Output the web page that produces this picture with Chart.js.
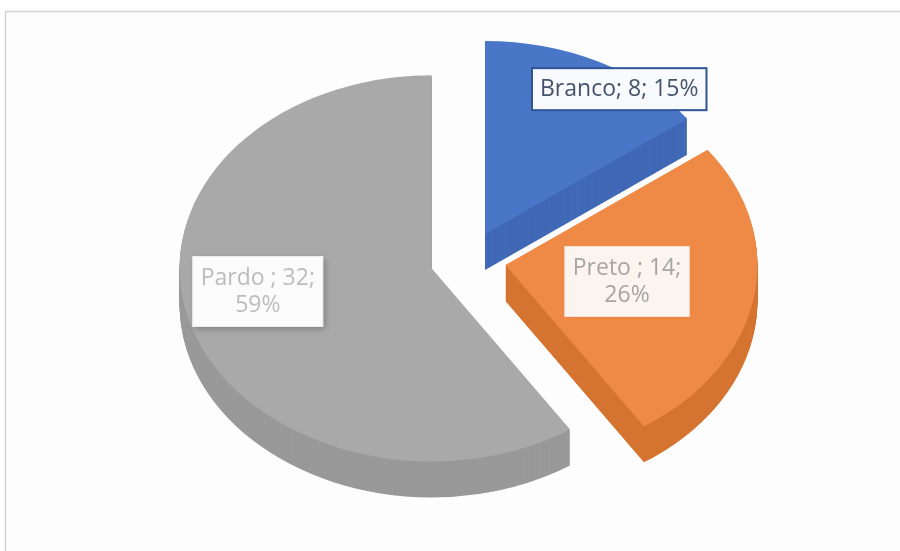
<!DOCTYPE html>
<html>
<head>
<meta charset="utf-8">
<script src="https://cdn.jsdelivr.net/npm/chart.js@4"></script>
<style>
  html, body { margin: 0; padding: 0; background: #fff; }
  #chart-container { display: block; }
</style>
</head>
<body>
<canvas id="chart-container" width="900" height="551"></canvas>
<script>
// values
const categories = ["Branco", "Preto ", "Pardo "];
const counts = [8, 14, 32];
const topColors = ["#4a76c8", "#ee8a45", "#a9a9a9"];
const sideColors = ["#4069b6", "#d57430", "#999999"];

// fake 3D look
const TILT = 0.766;   // vertical squash of the pie
const DEPTH = 36;     // thickness in screen px
const EXPLODE = 38;   // distance each slice is pulled out

const total = counts.reduce((a, b) => a + b, 0);
const labelTexts = categories.map((c, i) =>
  `${c}; ${counts[i]}; ${Math.round(counts[i] / total * 100)}%`);

// where the boxes sit, relative to each slice (fraction of radius, turn in degrees)
const labelPlacement = [
  { r: 0.92, turn: 8.7, wrap: false },
  { r: 0.49, turn: 0, wrap: true },
  { r: 0.70, turn: 6.8, wrap: true }
];
const labelStyles = [
  { fill: "#f8fafd", stroke: "#2f5597", lineWidth: 2, color: "#44546a", shadow: false },
  { fill: "#fcf5ef", stroke: "#f1e2d6", lineWidth: 1, color: "#a5a5a5", shadow: false },
  { fill: "#fbfbfb", stroke: "#ececec", lineWidth: 1, color: "#bcbcbc", shadow: true }
];

const framePlugin = {
  id: 'frame',
  beforeDraw(chart) {
    const ctx = chart.ctx;
    ctx.save();
    ctx.fillStyle = '#fdfdfd';
    ctx.fillRect(5, 11, chart.width - 5, chart.height - 11);
    ctx.strokeStyle = '#d4d4d4';
    ctx.lineWidth = 1.5;
    ctx.beginPath();
    ctx.moveTo(chart.width, 11.5);
    ctx.lineTo(5.5, 11.5);
    ctx.lineTo(5.5, chart.height);
    ctx.stroke();
    ctx.restore();
  }
};

function sliceGeometry(arc) {
  const { x, y, startAngle, endAngle, outerRadius } =
    arc.getProps(['x', 'y', 'startAngle', 'endAngle', 'outerRadius']);
  const mid = (startAngle + endAngle) / 2;
  return { x, y, startAngle, endAngle, outerRadius, mid,
    ox: Math.cos(mid) * EXPLODE, oy: Math.sin(mid) * EXPLODE };
}

const tiltPlugin = {
  id: 'tilt',
  beforeDatasetsDraw(chart) {
    const ctx = chart.ctx;
    const arcs = chart.getDatasetMeta(0).data;
    const cx = arcs[0].x, cy = arcs[0].y;
    ctx.save();
    ctx.translate(cx, cy);
    ctx.scale(1, TILT);
    ctx.translate(-cx, -cy);
    // side walls: the slice shape stacked downwards
    arcs.forEach((arc, i) => {
      const g = sliceGeometry(arc);
      ctx.fillStyle = sideColors[i];
      for (let d = DEPTH; d > 0; d--) {
        const px = g.x + g.ox, py = g.y + g.oy + d / TILT;
        ctx.beginPath();
        ctx.moveTo(px, py);
        ctx.arc(px, py, g.outerRadius, g.startAngle, g.endAngle);
        ctx.closePath();
        ctx.fill();
      }
    });
    // top faces, drawn by the arc elements themselves, pulled out
    arcs.forEach(arc => {
      const g = sliceGeometry(arc);
      ctx.save();
      ctx.translate(g.ox, g.oy);
      arc.draw(ctx);
      ctx.restore();
    });
  },
  beforeDatasetDraw() {
    return false; // already drawn above
  },
  afterDatasetsDraw(chart) {
    const ctx = chart.ctx;
    ctx.restore();
    const arcs = chart.getDatasetMeta(0).data;
    const cy = arcs[0].y;
    ctx.save();
    ctx.font = '23px "Open Sans", "Noto Sans", sans-serif';
    ctx.textAlign = 'center';
    ctx.textBaseline = 'middle';
    arcs.forEach((arc, i) => {
      const g = sliceGeometry(arc);
      const lp = labelPlacement[i];
      const st = labelStyles[i];
      const ang = g.mid + lp.turn * Math.PI / 180;
      const sx = g.x + g.ox + Math.cos(ang) * g.outerRadius * lp.r;
      const uy = g.y + g.oy + Math.sin(ang) * g.outerRadius * lp.r;
      const sy = cy + (uy - cy) * TILT;

      let lines = [labelTexts[i]];
      if (lp.wrap) {
        const cut = labelTexts[i].lastIndexOf('; ');
        lines = [labelTexts[i].slice(0, cut + 1), labelTexts[i].slice(cut + 2)];
      }
      const lineH = lines.length > 1 ? 27 : 26;
      const w = Math.max(...lines.map(l => ctx.measureText(l).width)) + 16;
      const h = lines.length * lineH + 16;
      const bx = sx - w / 2, by = sy - h / 2;

      ctx.save();
      if (st.shadow) {
        ctx.shadowColor = 'rgba(0,0,0,0.25)';
        ctx.shadowBlur = 6;
        ctx.shadowOffsetX = 2;
        ctx.shadowOffsetY = 2;
      }
      ctx.fillStyle = st.fill;
      ctx.fillRect(bx, by, w, h);
      ctx.restore();
      ctx.strokeStyle = st.stroke;
      ctx.lineWidth = st.lineWidth;
      ctx.strokeRect(bx, by, w, h);

      ctx.fillStyle = st.color;
      lines.forEach((l, k) => {
        ctx.fillText(l, sx, by + 8 + lineH * (k + 0.5));
      });
    });
    ctx.restore();
  }
};

new Chart(
  document.getElementById('chart-container'),
  {
    type: 'pie',
    data: {
      labels: categories,
      datasets: [{
        data: counts,
        backgroundColor: topColors,
        borderWidth: 0,
        offset: 0,
        clip: false
      }]
    },
    options: {
      responsive: false,
      animation: false,
      radius: 252,
      layout: { padding: { left: 36, right: 0, top: 0, bottom: 31 } },
      plugins: {
        legend: { display: false },
        tooltip: { enabled: false }
      }
    },
    plugins: [framePlugin, tiltPlugin]
  }
);
</script>
</body>
</html>
